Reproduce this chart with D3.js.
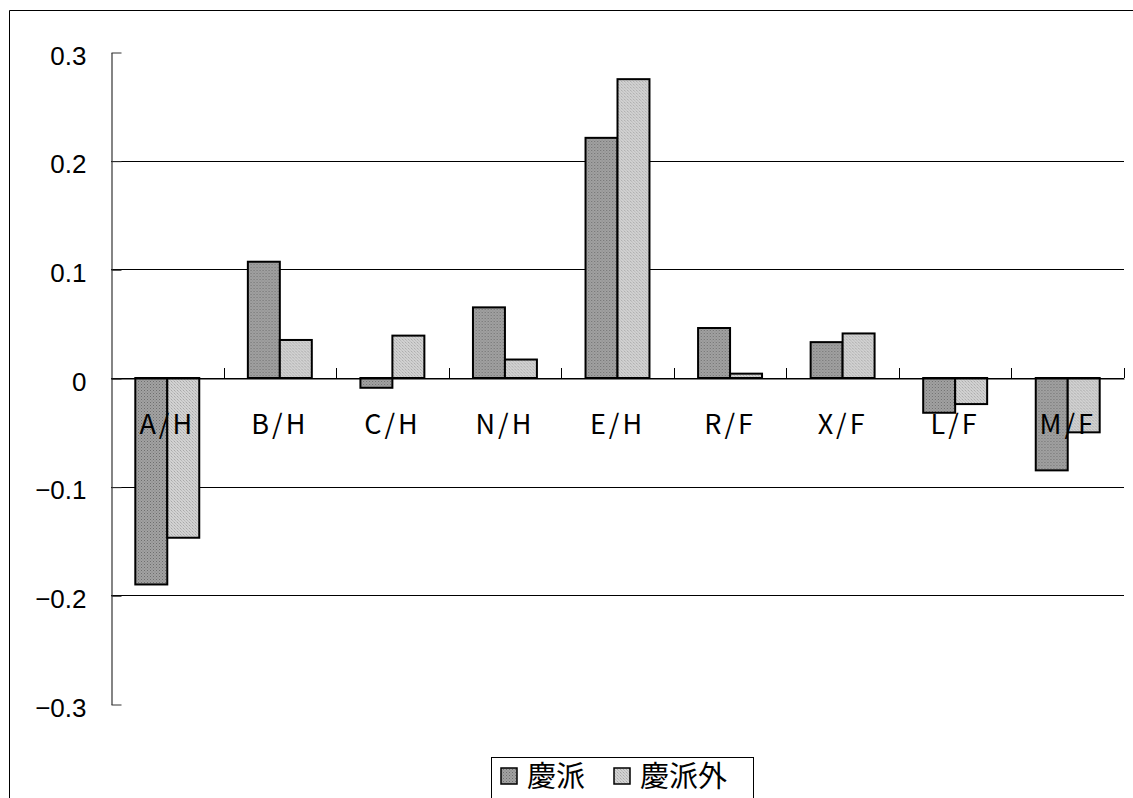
<!DOCTYPE html>
<html>
<head>
<meta charset="utf-8">
<script src="https://cdn.jsdelivr.net/npm/d3@7/dist/d3.min.js"></script>
<style>
  html, body { margin: 0; padding: 0; background: #fff; }
  svg { display: block; }
</style>
</head>
<body>
<svg id="chart" width="1133" height="798"></svg>
<script>
// Categories along the x axis
const categories = ["A/H", "B/H", "C/H", "N/H", "E/H", "R/F", "X/F", "L/F", "M/F"];
// Series names
const seriesNames = ["慶派", "慶派外"];
// Series values per category
const keihaValues    = [-0.190, 0.107, -0.009, 0.065, 0.221, 0.046, 0.033, -0.032, -0.085];
const nonKeihaValues = [-0.147, 0.035, 0.039, 0.017, 0.275, 0.004, 0.041, -0.024, -0.050];
// Y axis ticks
const yTicks = [-0.3, -0.2, -0.1, 0, 0.1, 0.2, 0.3];
const yTickLabels = ["−0.3", "−0.2", "−0.1", "0", "0.1", "0.2", "0.3"];

const svg = d3.select("#chart");
const W = 1133, H = 798;

// Outer chart frame (left and top edges visible)
svg.append("path")
  .attr("d", `M9.5,${H} V10.5 H${W}`)
  .attr("fill", "none").attr("stroke", "#000").attr("stroke-width", 1);

// Fill patterns
const defs = svg.append("defs");
const pDark = defs.append("pattern").attr("id", "pDark")
  .attr("width", 3).attr("height", 3).attr("patternUnits", "userSpaceOnUse");
pDark.append("rect").attr("width", 3).attr("height", 3).attr("fill", "#a2a2a2");
pDark.append("rect").attr("width", 1).attr("height", 1).attr("fill", "#6e6e6e");
pDark.append("rect").attr("x", 1.5).attr("y", 1.5).attr("width", 1).attr("height", 1).attr("fill", "#808080");

const pLight = defs.append("pattern").attr("id", "pLight")
  .attr("width", 3).attr("height", 3).attr("patternUnits", "userSpaceOnUse");
pLight.append("rect").attr("width", 3).attr("height", 3).attr("fill", "#d2d2d2");
pLight.append("rect").attr("width", 1).attr("height", 1).attr("fill", "#a8a8a8");
pLight.append("rect").attr("x", 1).attr("y", 1).attr("width", 1).attr("height", 1).attr("fill", "#b8b8b8");
pLight.append("rect").attr("x", 2).attr("y", 2).attr("width", 1).attr("height", 1).attr("fill", "#c0c0c0");

const fills = ["url(#pDark)", "url(#pLight)"];

// Plot area
const x0 = 111, x1 = 1124;
const y = d3.scaleLinear().domain([-0.3, 0.3]).range([704, 52]);
const xBand = d3.scaleBand().domain(categories).range([x0, x1]).paddingInner(0).paddingOuter(0);
const bw = xBand.bandwidth();
const xInner = d3.scaleBand().domain([0, 1]).range([0, bw]).paddingInner(0).paddingOuter(0.76);

// Gridlines (inner ticks only)
svg.append("g").selectAll("line")
  .data(yTicks.filter(t => Math.abs(t) < 0.25))
  .join("line")
  .attr("x1", x0).attr("x2", x1)
  .attr("y1", d => Math.round(y(d)) + 0.5).attr("y2", d => Math.round(y(d)) + 0.5)
  .attr("stroke", "#000").attr("stroke-width", 1);

// Y axis
const yAxis = d3.axisLeft(y).tickValues(yTicks).tickSizeInner(-10).tickSizeOuter(0)
  .tickFormat((d, i) => yTickLabels[i]);
const gy = svg.append("g").attr("transform", `translate(${x0 + 0.5},0.5)`).call(yAxis);
gy.select(".domain").attr("stroke", "#333").attr("stroke-width", 1.2);
gy.selectAll(".tick line").attr("stroke", "#333");
gy.selectAll(".tick text")
  .attr("x", -25).attr("dy", "0.45em")
  .attr("font-family", "Liberation Sans, Arial, sans-serif")
  .attr("font-size", 26).attr("fill", "#000");

// Bars
const data = categories.map((c, i) => ({ c, v: [keihaValues[i], nonKeihaValues[i]] }));
const groups = svg.append("g").selectAll("g").data(data).join("g")
  .attr("transform", d => `translate(${xBand(d.c)},0)`);
groups.selectAll("rect")
  .data(d => d.v.map((v, k) => ({ v, k })))
  .join("rect")
  .attr("x", d => xInner(d.k))
  .attr("width", xInner.bandwidth())
  .attr("y", d => y(Math.max(0, d.v)))
  .attr("height", d => Math.abs(y(d.v) - y(0)))
  .attr("fill", d => fills[d.k])
  .attr("stroke", "#000").attr("stroke-width", 2);

// X axis along the zero line with upward category ticks
const xAxis = d3.axisBottom(xBand).tickSize(0).tickSizeOuter(0);
const gx = svg.append("g").attr("transform", `translate(0,${Math.round(y(0)) + 0.5})`).call(xAxis);
gx.select(".domain").attr("stroke", "#000").attr("stroke-width", 1);
gx.selectAll(".tick text")
  .attr("y", 55).attr("dy", "0")
  .attr("font-family", "Noto Sans CJK JP, sans-serif")
  .attr("font-size", 27).attr("letter-spacing", "3px")
  .attr("fill", "#000");
svg.append("g").selectAll("line")
  .data(d3.range(1, categories.length + 1))
  .join("line")
  .attr("x1", i => Math.round(x0 + i * bw) + 0.5).attr("x2", i => Math.round(x0 + i * bw) + 0.5)
  .attr("y1", y(0) - 10).attr("y2", y(0))
  .attr("stroke", "#000");

// Legend
const lg = svg.append("g").attr("transform", "translate(491,757)");
lg.append("rect").attr("x", 0.5).attr("y", 0.5).attr("width", 262).attr("height", 45)
  .attr("fill", "#fff").attr("stroke", "#000").attr("stroke-width", 1);
const itemX = [10, 123];
const textX = [36, 149];
seriesNames.forEach((name, k) => {
  lg.append("rect").attr("x", itemX[k]).attr("y", 11).attr("width", 16).attr("height", 16)
    .attr("fill", fills[k]).attr("stroke", "#000").attr("stroke-width", 1.5);
  lg.append("text").attr("x", textX[k]).attr("y", 30)
    .attr("font-family", "Noto Sans CJK JP, sans-serif")
    .attr("font-size", 29).attr("fill", "#000").text(name);
});
</script>
</body>
</html>
